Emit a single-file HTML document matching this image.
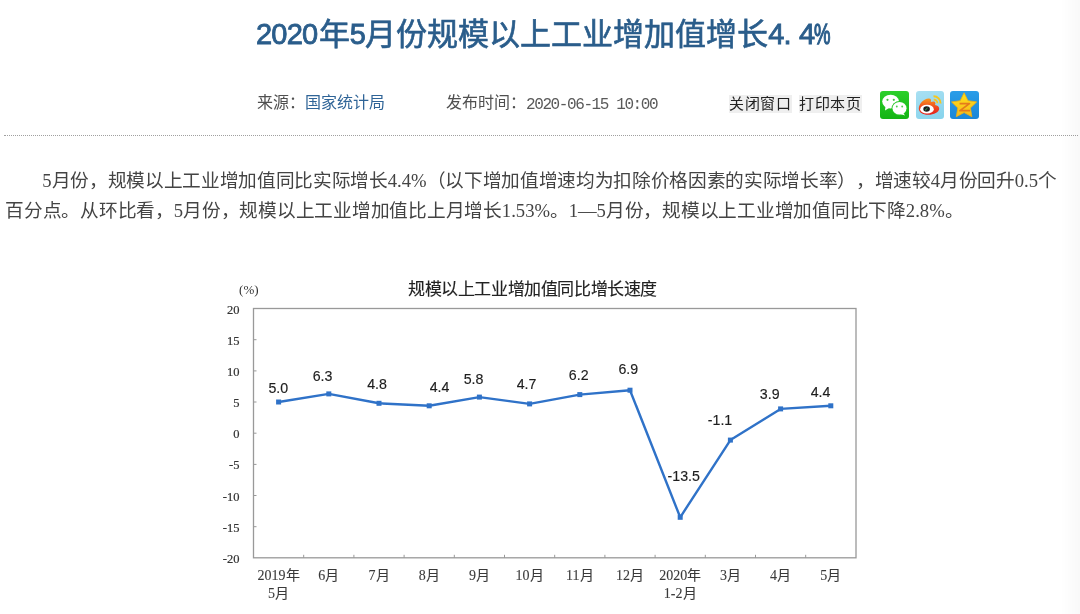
<!DOCTYPE html>
<html lang="zh-CN">
<head>
<meta charset="utf-8">
<style>
html,body{margin:0;padding:0;background:#fff;}
body{width:1080px;height:614px;overflow:hidden;position:relative;text-autospace:no-autospace;text-spacing-trim:space-all;font-family:"Liberation Serif",serif;color:#333;}
.title{position:absolute;left:256px;top:15px;font-family:"Liberation Sans",sans-serif;font-size:31px;line-height:40px;color:#2a5d8b;white-space:nowrap;font-weight:normal;-webkit-text-stroke:0.65px #2a5d8b;}
.meta{position:absolute;top:93px;font-size:16px;line-height:20px;color:#505050;white-space:nowrap;}
.src{left:257px;}
.src a{color:#2f6497;text-decoration:none;}
.time{left:446px;}
.mono{color:#5a5a5a;font-family:"Liberation Mono",monospace;letter-spacing:-1.4px;position:relative;top:1px;}
.btn{position:absolute;top:95px;height:18px;line-height:18px;font-family:"Liberation Sans",sans-serif;font-size:15px;letter-spacing:0.5px;color:#222;background:#efefef;padding-right:0.5px;white-space:nowrap;}
.hr{position:absolute;left:4px;top:135px;width:1074px;border-top:1px dotted #a0a0a0;}
.p{position:absolute;left:5px;font-size:18.67px;line-height:30px;color:#444;white-space:nowrap;letter-spacing:-0.33px;will-change:transform;}
.p .l{letter-spacing:0;}
.shade{position:absolute;right:0;top:0;width:20px;height:614px;background:linear-gradient(to right,rgba(0,0,0,0),rgba(0,0,0,0.025));}
.ico{position:absolute;top:91px;width:29px;height:28px;border-radius:3px;overflow:hidden;}
svg text{white-space:pre;}
#w{position:absolute;left:0;top:0;width:1080px;height:614px;will-change:transform;}
.title b{position:relative;top:-1px;font-weight:normal;font-size:29px;letter-spacing:-0.8px;-webkit-text-stroke:0.85px #2a5d8b;}
.title i{position:relative;top:-1px;font-style:normal;display:inline-block;font-size:29px;transform:scaleX(0.64);transform-origin:0 0;-webkit-text-stroke:1.3px #2a5d8b;}
</style>
</head>
<body>
<div id="w">
<div class="title"><b style="margin-right:1.5px">2020</b>年<b>5</b>月份规模以上工业增加值增长<b>4. </b><b style="margin-left:1px">4</b><i>%</i></div>
<div class="meta src">来源：<a>国家统计局</a></div>
<div class="meta time">发布时间：<span class="mono">2020-06-15 10:00</span></div>
<div class="btn" style="left:729px">关闭窗口</div>
<div class="btn" style="left:799px">打印本页</div>

<div class="ico" style="left:880px;background:linear-gradient(#2bd02a,#14b414);">
<svg width="29" height="28" viewBox="0 0 29 28">
<ellipse cx="10.6" cy="10.6" rx="8.4" ry="6.9" fill="#fff"/>
<path d="M5.5 15 L5 19.5 L9.5 16.8Z" fill="#fff"/>
<ellipse cx="19.5" cy="17.3" rx="7.9" ry="7.2" fill="#26c526"/>
<ellipse cx="19.5" cy="17.3" rx="7" ry="6.3" fill="#fff"/>
<path d="M23 21.5 L25 24.5 L20.5 23Z" fill="#fff"/>
<circle cx="7.5" cy="8.8" r="1.1" fill="#3cc83c"/><circle cx="13.8" cy="8.8" r="1.1" fill="#3cc83c"/>
<circle cx="16.8" cy="15.5" r="0.95" fill="#4ccc4c"/><circle cx="22.2" cy="15.5" r="0.95" fill="#4ccc4c"/>
</svg></div>

<div class="ico" style="left:916px;width:28px;background:linear-gradient(160deg,#a9e0f2,#86d3ec);">
<svg width="28" height="28" viewBox="0 0 28 28">
<defs><linearGradient id="wb" x1="0" y1="0" x2="0" y2="1"><stop offset="0" stop-color="#f99a1c"/><stop offset="0.55" stop-color="#f0461e"/><stop offset="1" stop-color="#e3211c"/></linearGradient></defs>
<path d="M2.8 17.5 C2.8 12.5 8 8 12.5 7.5 C15 7.2 15.5 9 14.8 11 C17.5 10 19.6 10.3 19.4 12.6 C19.3 13.3 19 13.8 19 14 C21.8 14.4 23.3 15.8 23.2 17.8 C23 21.3 17.8 23.8 12.3 23.8 C6.5 23.8 2.8 21.3 2.8 17.5Z" fill="url(#wb)"/>
<ellipse cx="11" cy="18.2" rx="6.8" ry="4.4" fill="#fff"/>
<ellipse cx="10.6" cy="18" rx="3.3" ry="2.8" fill="#1d1d1d"/>
<path d="M9 19.3 L11.5 17" stroke="#3fbf5f" stroke-width="0.9"/>
<path d="M17.5 5.3 A7 7 0 0 1 24.6 12.5" stroke="#f7c61e" stroke-width="1.9" fill="none"/>
<path d="M17.7 8.6 A3.6 3.6 0 0 1 21.4 12.3" stroke="#f7c61e" stroke-width="1.7" fill="none"/>
</svg></div>

<div class="ico" style="left:950px;background:linear-gradient(#2a9de8,#1a86d8);">
<svg width="29" height="28" viewBox="0 0 29 28">
<defs><linearGradient id="qz" x1="0" y1="0" x2="0" y2="1"><stop offset="0" stop-color="#ffe21a"/><stop offset="1" stop-color="#f5b81c"/></linearGradient></defs>
<path d="M14.1 1.8 L18.0 9.7 L26.7 10.9 L20.4 17.0 L21.9 25.7 L14.1 21.6 L6.3 25.7 L7.8 17.0 L1.5 10.9 L10.2 9.7Z" fill="url(#qz)" stroke="#f0b010" stroke-width="0.8" stroke-linejoin="round"/>
<path d="M9.6 12.6 L19.4 12.6 L10 19.6 L20 19.6" stroke="#e2711c" stroke-width="1.8" fill="none" stroke-linejoin="round" opacity="0.9"/>
</svg></div>

<div class="hr"></div>
<div class="p" style="top:166px;text-indent:37.3px"><span class="l">5</span>月份，规模以上工业增加值同比实际增长<span class="l">4.4%</span>（以下增加值增速均为扣除价格因素的实际增长率），增速较<span class="l">4</span>月份回升<span class="l">0.5</span>个</div>
<div class="p" style="top:196px;letter-spacing:-0.25px">百分点。从环比看，<span class="l">5</span>月份，规模以上工业增加值比上月增长<span class="l">1.53%</span>。<span class="l">1</span>—<span class="l">5</span>月份，规模以上工业增加值同比下降<span class="l">2.8%</span>。</div>

<svg style="position:absolute;left:0;top:0" width="1080" height="614" viewBox="0 0 1080 614">
<g font-family="Liberation Sans, sans-serif" font-size="17" fill="#222" stroke="#222" stroke-width="0.15" letter-spacing="-0.4">
<text x="408" y="294.5">规模以上工业增加值同比增长速度</text>
</g>
<g font-family="Liberation Serif, serif" font-size="13" fill="#333"><text x="248.8" y="294" text-anchor="middle">(%)</text></g>
<g font-family="Liberation Serif, serif" font-size="12.5" fill="#333" stroke="#333" stroke-width="0.2" text-anchor="end" transform="translate(0,0.7)">
<text x="239.5" y="313">20</text>
<text x="239.5" y="344">15</text>
<text x="239.5" y="375">10</text>
<text x="239.5" y="406">5</text>
<text x="239.5" y="437">0</text>
<text x="239.5" y="468">-5</text>
<text x="239.5" y="500">-10</text>
<text x="239.5" y="531">-15</text>
<text x="239.5" y="562">-20</text>
</g>
<rect x="253.5" y="308.5" width="602.5" height="249.3" fill="none" stroke="#999" stroke-width="1.3"/>
<g stroke="#999" stroke-width="1">
<path d="M253.5 339.7h3M253.5 370.9h3M253.5 402h3M253.5 433.2h3M253.5 464.4h3M253.5 495.5h3M253.5 526.7h3"/>
<path d="M303.7 557.8v-3M353.9 557.8v-3M404.1 557.8v-3M454.3 557.8v-3M504.5 557.8v-3M554.7 557.8v-3M604.9 557.8v-3M655.1 557.8v-3M705.3 557.8v-3M755.5 557.8v-3M805.7 557.8v-3"/>
</g>
<polyline points="278.6,402 328.8,393.9 379,403.3 429.2,405.8 479.4,397.1 529.6,403.9 579.8,394.6 630,390.2 680.2,517.3 730.4,440.1 780.6,408.9 830.8,405.8" fill="none" stroke="#2f72c8" stroke-width="2.4" stroke-linejoin="round"/>
<g fill="#2f72c8">
<rect x="276.1" y="399.5" width="5" height="5"/><rect x="326.3" y="391.4" width="5" height="5"/><rect x="376.5" y="400.8" width="5" height="5"/><rect x="426.7" y="403.3" width="5" height="5"/><rect x="476.9" y="394.6" width="5" height="5"/><rect x="527.1" y="401.4" width="5" height="5"/><rect x="577.3" y="392.1" width="5" height="5"/><rect x="627.5" y="387.7" width="5" height="5"/><rect x="677.7" y="514.8" width="5" height="5"/><rect x="727.9" y="437.6" width="5" height="5"/><rect x="778.1" y="406.4" width="5" height="5"/><rect x="828.3" y="403.3" width="5" height="5"/>
</g>
<g font-family="Liberation Sans, sans-serif" font-size="14.2" fill="#1e1e1e" stroke="#1e1e1e" stroke-width="0.15" text-anchor="middle" transform="translate(0,0.8)">
<text x="278.3" y="392.3">5.0</text>
<text x="322.5" y="380.3">6.3</text>
<text x="377" y="388.7">4.8</text>
<text x="439.5" y="391.6">4.4</text>
<text x="473.5" y="382.8">5.8</text>
<text x="526.5" y="388.5">4.7</text>
<text x="578.7" y="379.4">6.2</text>
<text x="628.3" y="373.2">6.9</text>
<text x="683.7" y="480.3">-13.5</text>
<text x="720" y="424.7">-1.1</text>
<text x="769.7" y="398.7">3.9</text>
<text x="820.5" y="396">4.4</text>
</g>
<g font-family="Liberation Serif, serif" font-size="14" fill="#3a3a3a" stroke="#3a3a3a" stroke-width="0.1" text-anchor="middle" transform="translate(0,-1)">
<text x="278.6" y="581">2019年</text>
<text x="278.6" y="599">5月</text>
<text x="328.8" y="581">6月</text>
<text x="379" y="581">7月</text>
<text x="429.2" y="581">8月</text>
<text x="479.4" y="581">9月</text>
<text x="529.6" y="581">10月</text>
<text x="579.8" y="581">11月</text>
<text x="630" y="581">12月</text>
<text x="680.2" y="581">2020年</text>
<text x="680.2" y="599">1-2月</text>
<text x="730.4" y="581">3月</text>
<text x="780.6" y="581">4月</text>
<text x="830.8" y="581">5月</text>
</g>
</svg>
<div class="shade"></div>
</div>
</body>
</html>
